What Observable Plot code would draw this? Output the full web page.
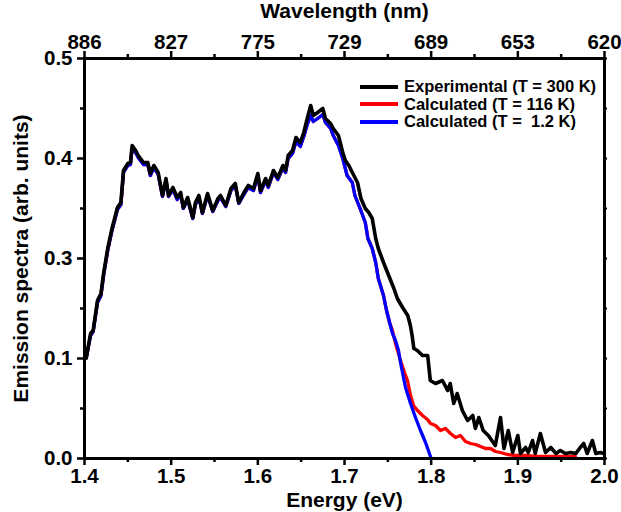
<!DOCTYPE html>
<html><head><meta charset="utf-8">
<script src="https://cdn.jsdelivr.net/npm/d3@7"></script>
<script src="https://cdn.jsdelivr.net/npm/@observablehq/plot@0.6"></script>
<style>
body{margin:0;background:#fff}
#wrap{position:relative;width:621px;height:512px;font-family:"Liberation Sans",Arial,sans-serif}
#wrap svg{font-family:"Liberation Sans",Arial,sans-serif;font-weight:bold}
#legend{position:absolute;left:360px;top:78px;font-weight:bold;font-size:16.5px;color:#000}
#legend .row{display:flex;align-items:center;height:17.5px;white-space:pre}
#legend .sw{width:38px;height:4px;margin-right:6px}
</style>
</head><body><div id="wrap"><div id="legend"></div></div>
<script>
// ---- data ----
const energyTicks = [1.4, 1.5, 1.6, 1.7, 1.8, 1.9, 2.0];
const energyMinor = [1.45, 1.55, 1.65, 1.75, 1.85, 1.95];
const wavelengthLabels = ["886", "827", "775", "729", "689", "653", "620"];
// the figure's y axis labels are evenly spaced although 0.2 is skipped
const yTicks = [0.0, 0.1, 0.3, 0.4, 0.5];
const yTickLabels = ["0.0", "0.1", "0.3", "0.4", "0.5"];
const yMinor = [0.05, 0.2, 0.35, 0.45];
const seriesNames = ["Experimental (T = 300 K)", "Calculated (T = 116 K)", "Calculated (T =  1.2 K)"];
const seriesColors = ["#000000", "#ff0000", "#0000ff"];

const energyExp = [
  1.402, 1.407, 1.410, 1.415, 1.419, 1.422, 1.427, 1.432, 1.438, 1.442,
  1.445, 1.450, 1.453, 1.455, 1.459, 1.462, 1.468, 1.473, 1.476, 1.480,
  1.485, 1.490, 1.494, 1.497, 1.502, 1.507, 1.511, 1.514, 1.519, 1.525,
  1.528, 1.532, 1.536, 1.542, 1.548, 1.554, 1.557, 1.563, 1.569, 1.574,
  1.578, 1.584, 1.589, 1.595, 1.600, 1.603, 1.609, 1.612, 1.618, 1.623,
  1.629, 1.632, 1.635, 1.640, 1.644, 1.649, 1.653, 1.657, 1.661, 1.664,
  1.669, 1.675, 1.678, 1.684, 1.687, 1.693, 1.698, 1.701, 1.705, 1.709,
  1.715, 1.719, 1.724, 1.728, 1.732, 1.736, 1.739, 1.745, 1.751, 1.757,
  1.761, 1.767, 1.773, 1.776, 1.778, 1.780, 1.784, 1.790, 1.796, 1.799,
  1.805, 1.813, 1.819, 1.822, 1.826, 1.830, 1.836, 1.842, 1.848, 1.851,
  1.855, 1.860, 1.866, 1.874, 1.880, 1.884, 1.889, 1.894, 1.900, 1.903,
  1.909, 1.912, 1.917, 1.920, 1.926, 1.932, 1.938, 1.944, 1.949, 1.955,
  1.961, 1.967, 1.972, 1.976, 1.980, 1.986, 1.990, 1.995, 1.999
];
const exp300K = [
  0.101, 0.150, 0.156, 0.216, 0.230, 0.270, 0.311, 0.331, 0.351, 0.356,
  0.388, 0.395, 0.396, 0.413, 0.408, 0.403, 0.396, 0.396, 0.385, 0.393,
  0.386, 0.363, 0.380, 0.363, 0.371, 0.361, 0.366, 0.351, 0.361, 0.341,
  0.356, 0.363, 0.346, 0.365, 0.348, 0.360, 0.363, 0.353, 0.370, 0.375,
  0.356, 0.366, 0.373, 0.370, 0.385, 0.368, 0.380, 0.373, 0.388, 0.381,
  0.393, 0.388, 0.403, 0.408, 0.421, 0.416, 0.426, 0.440, 0.453, 0.443,
  0.446, 0.450, 0.440, 0.435, 0.430, 0.423, 0.406, 0.398, 0.393, 0.386,
  0.376, 0.360, 0.350, 0.346, 0.340, 0.320, 0.310, 0.292, 0.266, 0.240,
  0.220, 0.202, 0.186, 0.166, 0.146, 0.120, 0.116, 0.106, 0.106, 0.078,
  0.075, 0.078, 0.068, 0.075, 0.055, 0.065, 0.048, 0.038, 0.043, 0.030,
  0.041, 0.028, 0.023, 0.013, 0.041, 0.010, 0.028, 0.006, 0.023, 0.005,
  0.011, 0.006, 0.018, 0.005, 0.025, 0.006, 0.011, 0.005, 0.008, 0.005,
  0.006, 0.005, 0.011, 0.015, 0.005, 0.018, 0.005, 0.006, 0.005
];

// the two calculated curves coincide up to ~1.752 eV
const energyCalcShared = [
  1.402, 1.407, 1.410, 1.415, 1.419, 1.422, 1.427, 1.432, 1.438, 1.442,
  1.445, 1.450, 1.453, 1.455, 1.459, 1.462, 1.468, 1.473, 1.476, 1.480,
  1.485, 1.490, 1.494, 1.497, 1.502, 1.507, 1.511, 1.514, 1.519, 1.525,
  1.528, 1.532, 1.536, 1.542, 1.548, 1.554, 1.557, 1.563, 1.569, 1.574,
  1.578, 1.584, 1.589, 1.595, 1.600, 1.603, 1.609, 1.612, 1.618, 1.623,
  1.629, 1.632, 1.635, 1.640, 1.644, 1.649, 1.653, 1.657, 1.661, 1.664,
  1.669, 1.675, 1.678, 1.684, 1.687, 1.693, 1.698, 1.703, 1.709, 1.712,
  1.718, 1.724, 1.727, 1.732, 1.736, 1.739, 1.745, 1.7485, 1.752
];
const calcShared = [
  0.101, 0.146, 0.154, 0.212, 0.226, 0.266, 0.309, 0.329, 0.349, 0.354,
  0.386, 0.393, 0.394, 0.410, 0.406, 0.401, 0.394, 0.394, 0.383, 0.391,
  0.384, 0.362, 0.378, 0.362, 0.369, 0.359, 0.364, 0.350, 0.359, 0.340,
  0.354, 0.361, 0.345, 0.363, 0.347, 0.358, 0.361, 0.352, 0.368, 0.373,
  0.355, 0.364, 0.371, 0.368, 0.383, 0.366, 0.378, 0.371, 0.386, 0.379,
  0.391, 0.386, 0.400, 0.405, 0.417, 0.412, 0.422, 0.434, 0.443, 0.437,
  0.440, 0.444, 0.436, 0.430, 0.423, 0.413, 0.400, 0.383, 0.376, 0.363,
  0.350, 0.336, 0.320, 0.310, 0.292, 0.260, 0.226, 0.196, 0.172
];
const energyTail12K = [1.7554, 1.7588, 1.7623, 1.7646, 1.7704, 1.7762, 1.7819, 1.7877, 1.7935, 1.800];
const calcTail12K = [0.150, 0.136, 0.116, 0.096, 0.071, 0.055, 0.041, 0.028, 0.016, 0.000];
const energyTail116K = [
  1.7554, 1.7588, 1.7623, 1.7646, 1.7692, 1.7727, 1.7762, 1.7796, 1.7842, 1.790,
  1.7958, 1.7992, 1.805, 1.8108, 1.8165, 1.8223, 1.8281, 1.8338, 1.8396, 1.8454,
  1.8512, 1.8569, 1.8627, 1.8685, 1.8742, 1.880, 1.8881, 1.8973, 1.9088, 1.9204,
  1.9319, 1.9435, 1.955, 1.9665
];
const calcTail116K = [
  0.156, 0.130, 0.110, 0.098, 0.086, 0.078, 0.063, 0.053, 0.048, 0.043,
  0.039, 0.035, 0.033, 0.028, 0.030, 0.025, 0.021, 0.023, 0.017, 0.015,
  0.014, 0.012, 0.010, 0.010, 0.007, 0.006, 0.004, 0.003, 0.003, 0.002,
  0.002, 0.002, 0.002, 0.002
];

// ---- the figure's axis: labelled values are equally spaced (piecewise linear) ----
const axisPos = d3.scaleLinear().domain(yTicks).range(yTicks.map((_, i) => i));

const mk = (es, vs, name) => es.map((e, i) => ({energy: e, value: vs[i], pos: axisPos(vs[i]), series: name}));
const rowsExp = mk(energyExp, exp300K, seriesNames[0]);
const rows116 = mk(energyCalcShared, calcShared, seriesNames[1]).concat(mk(energyTail116K, calcTail116K, seriesNames[1]));
const rows12 = mk(energyCalcShared, calcShared, seriesNames[2]).concat(mk(energyTail12K, calcTail12K, seriesNames[2]));

const W = 621, H = 512, mL = 84, mR = 17, mT = 58, mB = 54;
const iw = W - mL - mR, ih = H - mT - mB;
const tickW = 2.5;
const yMajorPos = yTicks.map(axisPos);
const yMinorPos = yMinor.map(axisPos);

const chart = Plot.plot({
  width: W, height: H,
  marginLeft: mL, marginRight: mR, marginTop: mT, marginBottom: mB,
  style: {background: "#fff", color: "#000", overflow: "visible"},
  x: {domain: [energyTicks[0], energyTicks[energyTicks.length - 1]]},
  y: {domain: [yMajorPos[0], yMajorPos[yMajorPos.length - 1]]},
  color: {domain: seriesNames, range: seriesColors},
  marks: [
    Plot.line(rows116, {x: "energy", y: "pos", stroke: "series", strokeWidth: 3.3, strokeLinejoin: "round"}),
    Plot.line(rows12, {x: "energy", y: "pos", stroke: "series", strokeWidth: 3.3, strokeLinejoin: "round"}),
    Plot.line(rowsExp, {x: "energy", y: "pos", stroke: "series", strokeWidth: 3.6, strokeLinejoin: "round"}),
    Plot.frame({stroke: "#000", strokeWidth: 3}),
    // bottom ticks (outward)
    Plot.tickX(energyTicks, {x: d => d, insetTop: ih, insetBottom: -7, strokeWidth: tickW}),
    Plot.tickX(energyMinor, {x: d => d, insetTop: ih, insetBottom: -4, strokeWidth: tickW}),
    // top ticks (outward)
    Plot.tickX(energyTicks, {x: d => d, insetTop: -7, insetBottom: ih, strokeWidth: tickW}),
    Plot.tickX(energyMinor, {x: d => d, insetTop: -4, insetBottom: ih, strokeWidth: tickW}),
    // left ticks
    Plot.tickY(yMajorPos, {y: d => d, insetLeft: -7, insetRight: iw, strokeWidth: tickW}),
    Plot.tickY(yMinorPos, {y: d => d, insetLeft: -4, insetRight: iw, strokeWidth: tickW}),
    // right ticks
    Plot.tickY(yMajorPos.concat(yMinorPos), {y: d => d, insetLeft: iw, insetRight: -3, strokeWidth: 2}),
    // tick labels
    Plot.axisX({anchor: "bottom", ticks: energyTicks, tickSize: 0, tickPadding: 10, fontSize: 20.5, fontWeight: "bold", tickFormat: d3.format(".1f"), label: null}),
    Plot.axisX({anchor: "top", ticks: energyTicks, tickSize: 0, tickPadding: 10, fontSize: 20.5, fontWeight: "bold", tickFormat: (d, i) => wavelengthLabels[i], label: null}),
    Plot.axisY({anchor: "left", ticks: yMajorPos, tickSize: 0, tickPadding: 12, fontSize: 20.5, fontWeight: "bold", tickFormat: (d, i) => yTickLabels[i], label: null}),
    // axis titles
    Plot.text(["Wavelength (nm)"], {text: d => d, frameAnchor: "top", lineAnchor: "middle", dy: -47, fontSize: 21, fontWeight: "bold"}),
    Plot.text(["Energy (eV)"], {text: d => d, frameAnchor: "bottom", lineAnchor: "middle", dy: 42, fontSize: 21, fontWeight: "bold"}),
    Plot.text(["Emission spectra (arb. units)"], {text: d => d, frameAnchor: "left", textAnchor: "middle", lineAnchor: "middle", dx: -63, rotate: -90, fontSize: 21, fontWeight: "bold"})
  ]
});
document.getElementById("wrap").prepend(chart);

// legend (inside the frame, top right)
const legend = document.getElementById("legend");
seriesNames.forEach((name, i) => {
  const row = document.createElement("div");
  row.className = "row";
  const sw = document.createElement("span");
  sw.className = "sw";
  sw.style.background = seriesColors[i];
  const tx = document.createElement("span");
  tx.textContent = name;
  row.append(sw, tx);
  legend.append(row);
});
</script>
</body></html>
